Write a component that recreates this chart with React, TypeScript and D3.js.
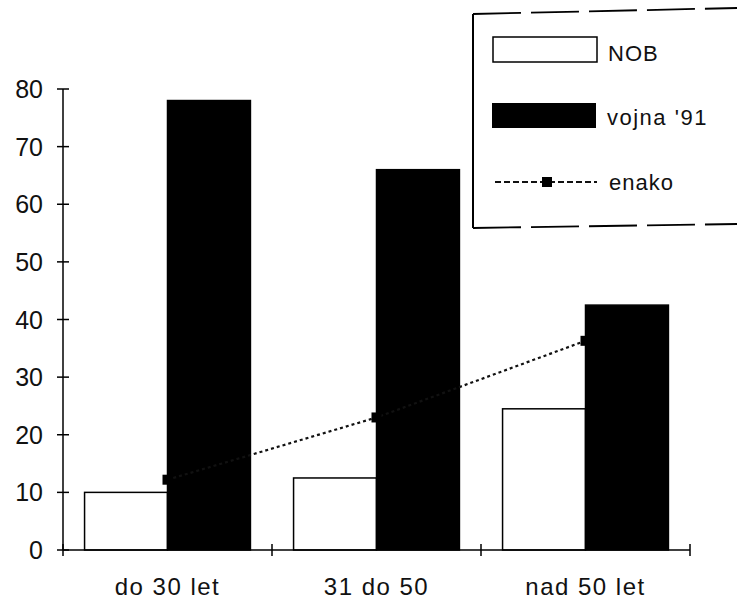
import React from 'react';
import * as d3 from 'd3';

// Data
const categories = ['do 30 let', '31 do 50', 'nad 50 let'];
const series = ['NOB', "vojna '91"];
const nobValues = [10, 12.5, 24.5];
const vojnaValues = [78, 66, 42.5];
const enakoValues = [12.2, 23, 36.3];
const yTicks = [0, 10, 20, 30, 40, 50, 60, 70, 80];

const W = 737;
const H = 599;
const FONT = '"Liberation Sans", Arial, sans-serif';

export default function App() {
  const y = d3.scaleLinear().domain([0, 80]).range([550, 89]);
  const x0 = d3.scaleBand<string>().domain(categories).range([63, 690]);
  const x1 = d3
    .scaleBand<string>()
    .domain(series)
    .range([0, x0.bandwidth()])
    .paddingInner(0)
    .paddingOuter(0.26);

  const groupCenter = (c: string) => (x0(c) as number) + x0.bandwidth() / 2;
  const line = d3
    .line<number>()
    .x((_, i) => groupCenter(categories[i]))
    .y((d) => y(d));

  const seriesVals = [nobValues, vojnaValues];
  const fills = ['#fff', '#000'];

  const boundaries = [x0.range()[0], ...categories.map((c) => (x0(c) as number) + x0.bandwidth())];

  return (
    <svg
      width={W}
      height={H}
      style={{ position: 'absolute', left: 0, top: 0, background: '#fff' }}
      fontFamily={FONT}
    >
      {/* bars */}
      {categories.map((c, i) => (
        <g key={c} transform={`translate(${x0(c)},0)`}>
          {series.map((s, j) => (
            <rect
              key={s}
              x={x1(s)}
              y={y(seriesVals[j][i])}
              width={x1.bandwidth()}
              height={y(0) - y(seriesVals[j][i])}
              fill={fills[j]}
              stroke="#000"
              strokeWidth={1.5}
            />
          ))}
        </g>
      ))}

      {/* enako line */}
      <path d={line(enakoValues) || ''} fill="none" stroke="#111" strokeWidth={2.2} strokeDasharray="3,3" />
      {enakoValues.map((v, i) => (
        <rect key={i} x={groupCenter(categories[i]) - 5} y={y(v) - 5} width={10} height={10} fill="#000" />
      ))}

      {/* y axis */}
      <line x1={63} x2={63} y1={y(0)} y2={y(80)} stroke="#000" strokeWidth={1.5} />
      {yTicks.map((t) => (
        <g key={t}>
          <line x1={57} x2={69} y1={y(t)} y2={y(t)} stroke="#000" strokeWidth={1.5} />
          <text x={43} y={y(t)} dy="0.36em" textAnchor="end" fontSize={25} fill="#111">
            {t}
          </text>
        </g>
      ))}

      {/* x axis */}
      <line x1={63} x2={690} y1={y(0)} y2={y(0)} stroke="#000" strokeWidth={1.5} />
      {boundaries.map((b, i) => (
        <line key={i} x1={b} x2={b} y1={y(0) - 6} y2={y(0) + 6} stroke="#000" strokeWidth={1.5} />
      ))}
      {categories.map((c) => (
        <text
          key={c}
          x={groupCenter(c)}
          y={595}
          textAnchor="middle"
          fontSize={24}
          letterSpacing={1.5}
          fill="#111"
        >
          {c}
        </text>
      ))}

      {/* legend */}
      <line x1={473} x2={473} y1={14} y2={228} stroke="#000" strokeWidth={2} />
      <line x1={473} x2={737} y1={14} y2={8} stroke="#000" strokeWidth={1.8} strokeDasharray="48,10" />
      <line x1={473} x2={737} y1={228} y2={224} stroke="#000" strokeWidth={1.8} strokeDasharray="48,10" />
      <rect x={493} y={37} width={104} height={25} fill="#fff" stroke="#000" strokeWidth={1.5} />
      <text x={608} y={61} fontSize={22} letterSpacing={1} fill="#111">NOB</text>
      <rect x={492} y={103} width={104} height={25} fill="#000" />
      <text x={607} y={125} fontSize={22} letterSpacing={1.5} fill="#111">vojna '91</text>
      <line x1={495} x2={597} y1={182} y2={182} stroke="#111" strokeWidth={2} strokeDasharray="6,3" />
      <rect x={542} y={177} width={10} height={10} fill="#000" />
      <text x={609} y={190} fontSize={22} letterSpacing={1} fill="#111">enako</text>
    </svg>
  );
}
